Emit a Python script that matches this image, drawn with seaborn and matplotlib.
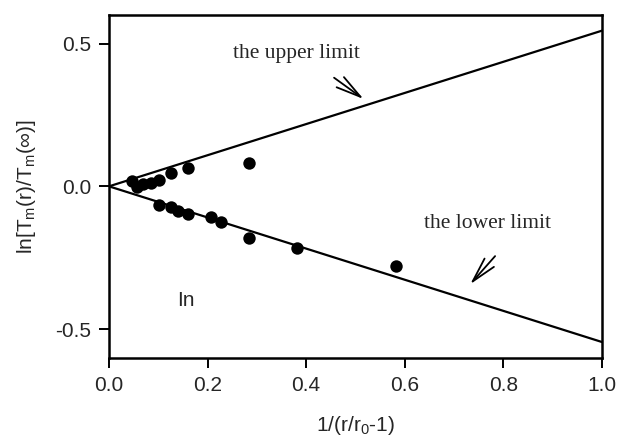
import numpy as np
import pandas as pd
import seaborn as sns
import matplotlib.pyplot as plt

# measured points
upper_x = [0.046, 0.056, 0.069, 0.086, 0.101, 0.125, 0.161, 0.284]
upper_y = [0.019, -0.004, 0.008, 0.011, 0.023, 0.045, 0.064, 0.080]
lower_x = [0.101, 0.125, 0.140, 0.161, 0.206, 0.227, 0.284, 0.381, 0.582]
lower_y = [-0.065, -0.074, -0.088, -0.097, -0.109, -0.126, -0.182, -0.217, -0.278]

# limit lines
limit_x = [0.0, 1.0]
upper_limit = [0.0, 0.545]
lower_limit = [0.0, -0.545]

x_ticks = [0.0, 0.2, 0.4, 0.6, 0.8, 1.0]
y_ticks = [-0.5, 0.0, 0.5]

points = pd.DataFrame({"x": upper_x + lower_x, "y": upper_y + lower_y})
limits = pd.DataFrame({"x": limit_x * 2,
                       "y": upper_limit + lower_limit,
                       "which": ["upper"] * 2 + ["lower"] * 2})

sns.set_style("ticks")
plt.rcParams['font.family'] = ['Liberation Sans', 'DejaVu Sans']
plt.rcParams['mathtext.fontset'] = 'custom'
plt.rcParams['mathtext.rm'] = 'Liberation Sans'
plt.rcParams['mathtext.it'] = 'Liberation Sans'

fig = plt.figure(figsize=(6.18, 4.4), dpi=100)
ax = fig.add_axes([0.1764, 0.187, 0.7976, 0.779])

sns.lineplot(data=limits, x="x", y="y", units="which", estimator=None,
             color="black", linewidth=1.6, ax=ax, legend=False)
sns.scatterplot(data=points, x="x", y="y", color="black", s=80,
                edgecolor="black", linewidth=0, ax=ax, legend=False, zorder=3)

ax.set_xlim(0, 1.0)
ax.set_ylim(-0.6, 0.6)
ax.set_xticks(x_ticks)
ax.set_yticks(y_ticks)
ax.set_xticklabels(["{:.1f}".format(v) for v in x_ticks])
ax.set_yticklabels(["{:.1f}".format(v) for v in y_ticks])
ax.tick_params(direction="out", length=7, width=1.4, labelsize=15, color="black", pad=6)
for s in ax.spines.values():
    s.set_linewidth(1.8)
    s.set_color("black")

ax.set_xlabel(r"1/(r/r$_\mathrm{0}$-1)", fontsize=15, labelpad=14)
ax.set_ylabel(r"ln[T$_\mathrm{m}$(r)/T$_\mathrm{m}$($\infty$)]", fontsize=15, labelpad=12)

ax.text(0.38, 0.465, "the upper limit", family="Liberation Serif", fontsize=15.5,
        ha="center", va="center")
ax.text(0.768, -0.13, "the lower limit", family="Liberation Serif", fontsize=15.5,
        ha="center", va="center")
ax.text(0.155, -0.40, "In", fontsize=15, ha="center", va="center")

arrow = dict(arrowstyle="->,head_length=1.8,head_width=0.45", color="black", lw=1.3)
ax.annotate("", xy=(0.521, 0.30), xytext=(0.452, 0.386), arrowprops=arrow)
ax.annotate("", xy=(0.729, -0.35), xytext=(0.787, -0.237), arrowprops=arrow)

plt.savefig("out.png", dpi=100)
